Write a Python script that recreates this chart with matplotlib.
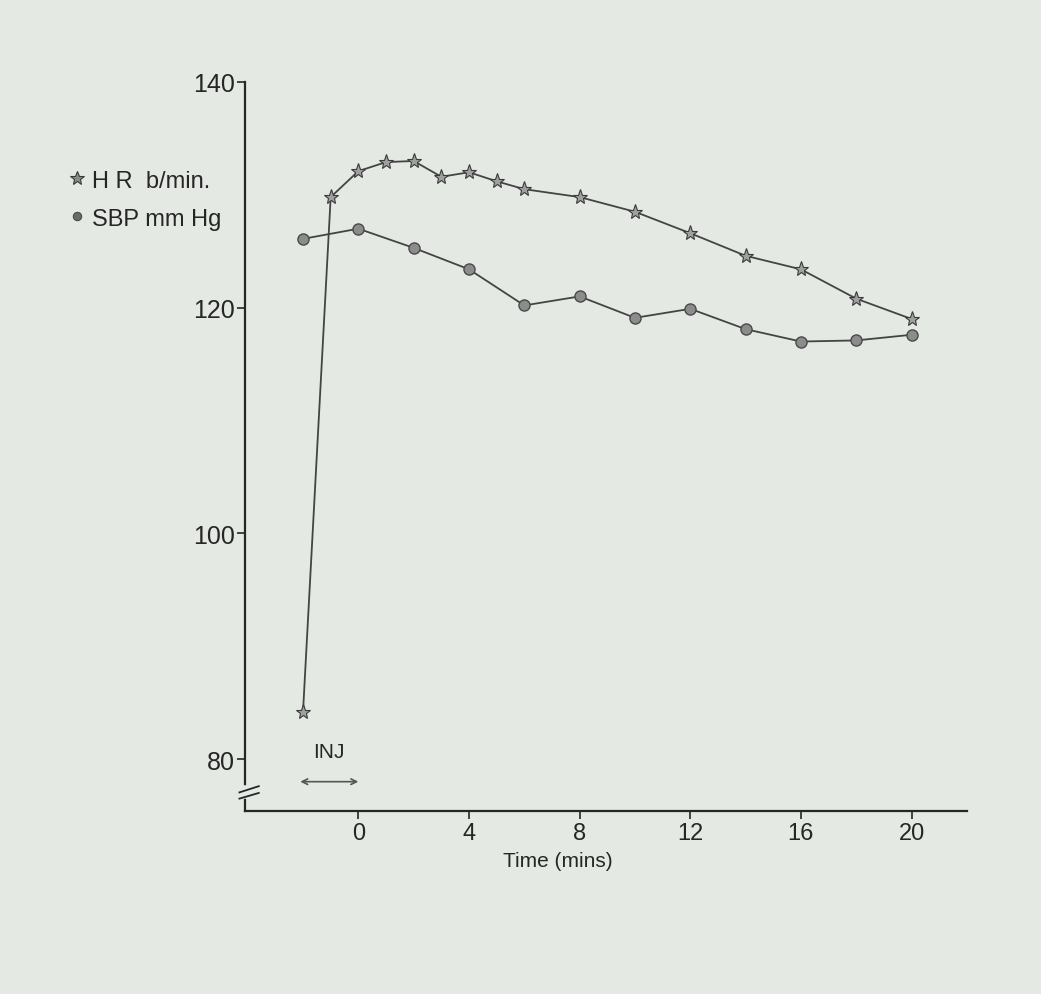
import matplotlib
matplotlib.use('Agg')
import matplotlib.pyplot as plt
from matplotlib.lines import Line2D

# ── Data ──────────────────────────────────────────────────────────────────────
hr_time = [-2, -1, 0, 1, 2, 3, 4, 5, 6, 8, 10, 12, 14, 16, 18, 20]
hr_vals = [84.2, 129.8, 132.1, 132.9, 133.0, 131.6, 132.0, 131.2, 130.5,
           129.8, 128.5, 126.6, 124.6, 123.4, 120.8, 119.0]

sbp_time = [-2, 0, 2, 4, 6, 8, 10, 12, 14, 16, 18, 20]
sbp_vals = [126.1, 127.0, 125.3, 123.4, 120.2, 121.0, 119.1, 119.9,
            118.1, 117.0, 117.1, 117.6]

x_ticks = [0, 4, 8, 12, 16, 20]
y_ticks = [80, 100, 120, 140]
series_labels = ['H R  b/min.', 'SBP mm Hg']

# ── Style ─────────────────────────────────────────────────────────────────────
BG = '#e4e9e3'
INK = '#262626'
LINE = '#444444'
FONT = ['Liberation Sans', 'DejaVu Sans']
plt.rcParams['font.family'] = FONT

fig = plt.figure(figsize=(10.41, 9.95), dpi=100)
fig.patch.set_facecolor(BG)
ax = fig.add_axes([0.2353, 0.1839, 0.6935, 0.7327])
ax.set_facecolor(BG)

ax.plot(hr_time, hr_vals, color=LINE, lw=1.3, marker='*', ms=11,
        mfc='#a0a0a0', mec='#3a3a3a', mew=0.8, zorder=3)
ax.plot(sbp_time, sbp_vals, color=LINE, lw=1.3, marker='o', ms=8,
        mfc='#8c8c8c', mec='#4a4a4a', mew=1.0, zorder=3)

ax.set_xlim(-4.1, 22)
ax.set_ylim(75.4, 140)
ax.set_xticks(x_ticks)
ax.set_yticks(y_ticks)

for s in ['top', 'right']:
    ax.spines[s].set_visible(False)
for s in ['left', 'bottom']:
    ax.spines[s].set_color(INK)
    ax.spines[s].set_linewidth(1.6)

ax.tick_params(axis='y', direction='out', length=6, width=1.2, color=INK,
               labelsize=18, labelcolor=INK, pad=1)
ax.tick_params(axis='x', direction='out', length=6, width=1.2, color=INK,
               labelsize=17, labelcolor=INK, pad=2)

# x label sits left of the axis centre in the original
ax.text(7.2, -0.068, 'Time (mins)', transform=ax.get_xaxis_transform(),
        fontsize=15, color=INK, ha='center', va='center')

# axis break on the y axis
ax.plot([-4.1, -4.1], [76.7, 77.45], color=BG, lw=4, clip_on=False, zorder=4)
ax.plot([-4.3, -3.6], [77.05, 77.6], color=INK, lw=1.3, clip_on=False, zorder=5)
ax.plot([-4.3, -3.6], [76.5, 77.0], color=INK, lw=1.3, clip_on=False, zorder=5)

# injection period
ax.annotate('', xy=(0.1, 78.0), xytext=(-2.2, 78.0),
            arrowprops=dict(arrowstyle='<->', color='#555555', lw=1.2,
                            mutation_scale=10), annotation_clip=False)
ax.text(-1.05, 80.7, 'INJ', fontsize=15, color=INK, ha='center', va='center')

# legend
handles = [
    Line2D([], [], ls='none', marker='*', ms=10, mfc='#8a8a8a', mec='#3a3a3a', mew=0.8),
    Line2D([], [], ls='none', marker='o', ms=6, mfc='#6a6a6a', mec='#4a4a4a', mew=0.8),
]
leg = ax.legend(handles, series_labels, loc='upper left',
                bbox_to_anchor=(70 / 1041, 1 - 170.5 / 995),
                bbox_transform=fig.transFigure, frameon=False, fontsize=17,
                handlelength=0.6, handletextpad=0.33, labelspacing=0.68,
                borderpad=0, borderaxespad=0)
for t in leg.get_texts():
    t.set_color(INK)

plt.savefig('out.png', dpi=100, facecolor=BG)
